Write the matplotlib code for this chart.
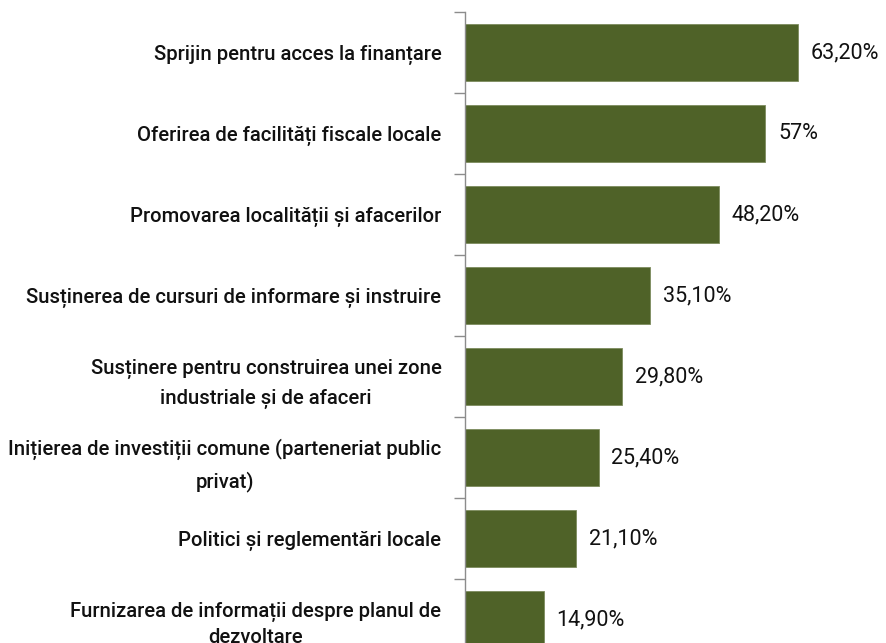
import matplotlib
matplotlib.use("Agg")
import matplotlib.pyplot as plt

categories = [
    "Sprijin pentru acces la finanțare",
    "Oferirea de facilități fiscale locale",
    "Promovarea localității și afacerilor",
    "Susținerea de cursuri de informare și instruire",
    "Susținere pentru construirea unei zone\nindustriale și de afaceri",
    "Inițierea de investiții comune (parteneriat public\nprivat)",
    "Politici și reglementări locale",
    "Furnizarea de informații despre planul de\ndezvoltare",
]
values = [63.2, 57.0, 48.2, 35.1, 29.8, 25.4, 21.1, 14.9]
value_labels = ["63,20%", "57%", "48,20%", "35,10%", "29,80%", "25,40%", "21,10%", "14,90%"]

plt.rcParams["font.family"] = ["Roboto", "DejaVu Sans"]

fig = plt.figure(figsize=(8.86, 6.43), dpi=100)
ax = fig.add_axes([465/886, (643-660)/643, (834-465)/886, (660-12)/643])

pos = list(range(len(values)))
ax.barh(pos, values, height=0.7, color="#4F6228", edgecolor="#7d8c5e", linewidth=0.6)
ax.set_xlim(0, 70)
ax.set_ylim(len(values) - 0.5, -0.5)

ax.set_yticks([i - 0.5 for i in range(len(values) + 1)])
ax.set_yticklabels([])
ax.tick_params(axis="y", which="major", length=8, width=1, color="#8c8c8c", direction="out")
ax.set_yticks(pos, categories, minor=True)
ax.tick_params(axis="y", which="minor", length=0, pad=17, labelsize=14.6)
labels = ax.get_yticklabels(minor=True)
for i, t in enumerate(labels):
    t.set_multialignment("center")
    t.set_fontweight("medium")
    t.set_color("#111111")
    t.set_linespacing(1.65 if i < len(labels) - 1 else 1.4)

ax.set_xticks([])
for s in ["top", "right", "bottom"]:
    ax.spines[s].set_visible(False)
ax.spines["left"].set_color("#8c8c8c")
ax.spines["left"].set_linewidth(1)

for p, v, lab in zip(pos, values, value_labels):
    ax.annotate(lab, (v, p), xytext=(9, 0), textcoords="offset points",
                va="center", ha="left", fontsize=15.5, color="#111111")

fig.savefig("out.png", dpi=100)
